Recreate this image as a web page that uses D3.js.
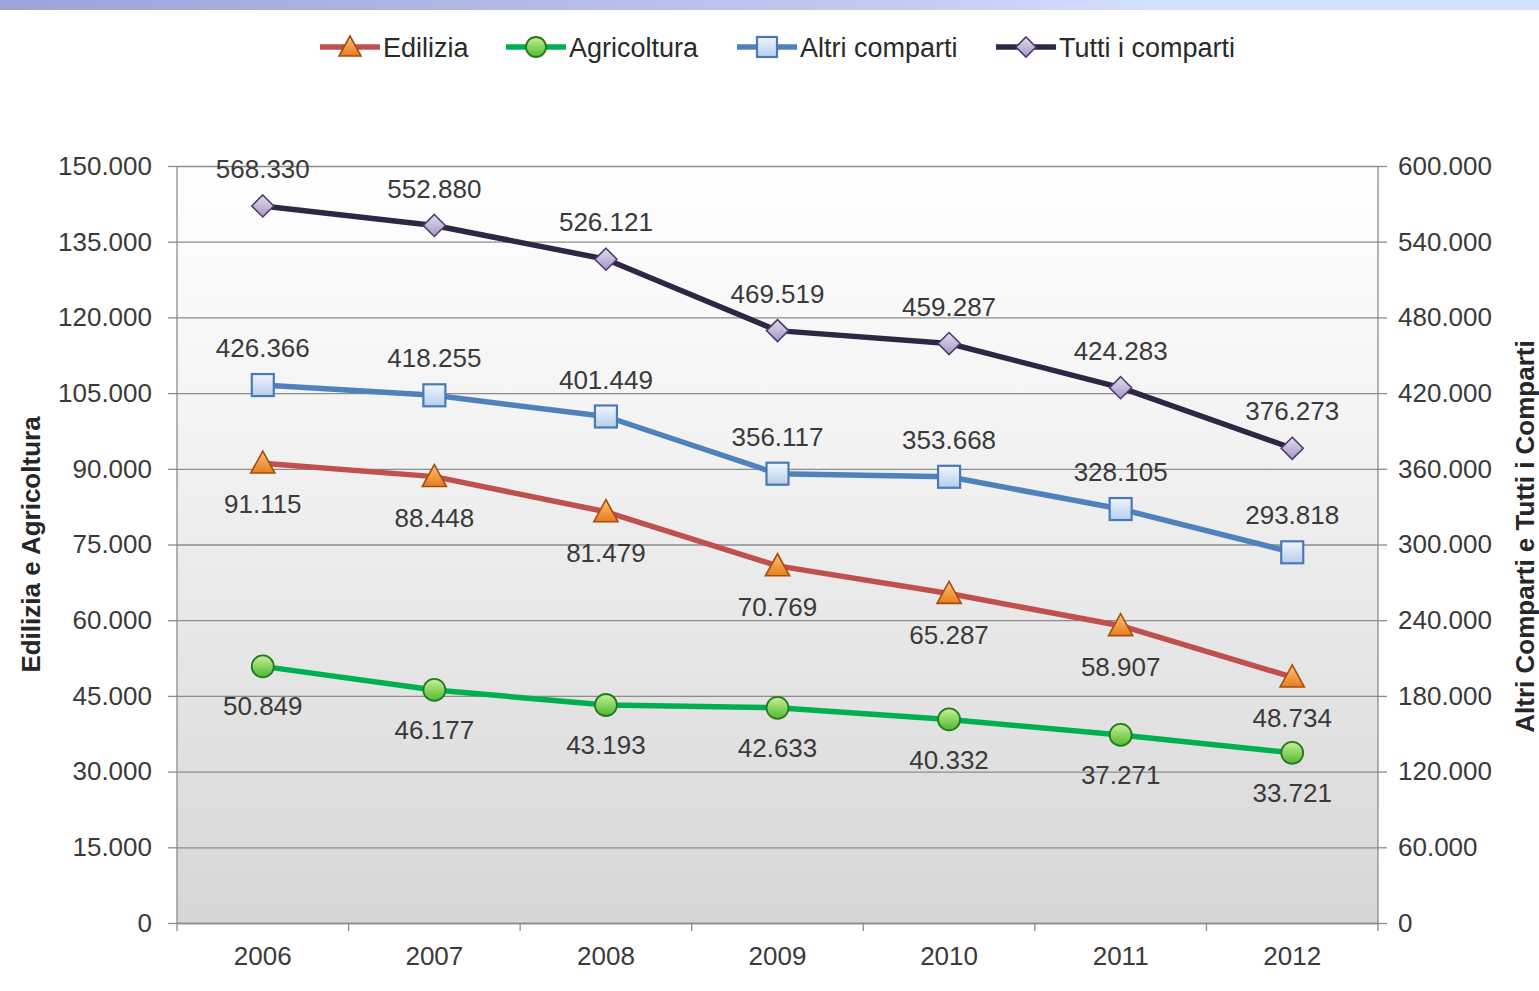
<!DOCTYPE html>
<html>
<head>
<meta charset="utf-8">
<script src="https://cdn.jsdelivr.net/npm/d3@7/dist/d3.min.js"></script>
<style>
  html, body { margin: 0; padding: 0; background: #ffffff; }
  svg { display: block; }
  text { font-family: "Liberation Sans", Arial, sans-serif; }
</style>
</head>
<body>
<svg id="chart" width="1539" height="991"></svg>
<script>
// ---- data ----
const years = ["2006", "2007", "2008", "2009", "2010", "2011", "2012"];
const edilizia = [91115, 88448, 81479, 70769, 65287, 58907, 48734];
const agricoltura = [50849, 46177, 43193, 42633, 40332, 37271, 33721];
const altriComparti = [426366, 418255, 401449, 356117, 353668, 328105, 293818];
const tuttiComparti = [568330, 552880, 526121, 469519, 459287, 424283, 376273];
const leftTicks = [0, 15000, 30000, 45000, 60000, 75000, 90000, 105000, 120000, 135000, 150000];
const rightTicks = [0, 60000, 120000, 180000, 240000, 300000, 360000, 420000, 480000, 540000, 600000];
const seriesNames = ["Edilizia", "Agricoltura", "Altri comparti", "Tutti i comparti"];
const leftTitle = "Edilizia e Agricoltura";
const rightTitle = "Altri Comparti e Tutti i Comparti";

// ---- setup ----
const svg = d3.select("#chart");
const W = 1539, H = 991;
const m = { left: 177, right: 1378, top: 166, bottom: 923 };
const it = d3.formatLocale({ decimal: ",", thousands: ".", grouping: [3], currency: ["€", ""] });
const fmt = it.format(",d");

const x = d3.scaleBand().domain(years).range([m.left, m.right]);
const cx = d => x(d) + x.bandwidth() / 2;
const yL = d3.scaleLinear().domain([0, 150000]).range([m.bottom, m.top]);
const yR = d3.scaleLinear().domain([0, 600000]).range([m.bottom, m.top]);

const defs = svg.append("defs");
function lin(id, stops, x1 = "0", y1 = "0", x2 = "0", y2 = "1") {
  const g = defs.append("linearGradient").attr("id", id)
    .attr("x1", x1).attr("y1", y1).attr("x2", x2).attr("y2", y2);
  stops.forEach(([o, c]) => g.append("stop").attr("offset", o).attr("stop-color", c));
}
lin("topband", [[0, "#9ea2d6"], [0.6, "#c3ccf4"], [0.75, "#d4e0ff"], [1, "#d4e0ff"]], "0", "0", "1", "0");
lin("plotbg", [[0, "#ffffff"], [0.35, "#f3f3f3"], [1, "#d6d6d6"]]);
lin("triFill", [[0, "#fbc27f"], [1, "#e87d1b"]]);
lin("cirFill", [[0, "#c9f09a"], [1, "#4fb82c"]]);
lin("sqFill", [[0, "#f2f7fd"], [1, "#b5cdec"]]);
lin("diaFill", [[0, "#e3dcef"], [1, "#a796c4"]]);

// top band
svg.append("rect").attr("x", 0).attr("y", 0).attr("width", W).attr("height", 10).attr("fill", "url(#topband)");

// plot background
svg.append("rect").attr("x", m.left).attr("y", m.top)
  .attr("width", m.right - m.left).attr("height", m.bottom - m.top)
  .attr("fill", "url(#plotbg)");

// gridlines
const grid = svg.append("g").attr("transform", `translate(${m.left},0)`)
  .call(d3.axisLeft(yL).tickValues(leftTicks).tickSize(-(m.right - m.left)).tickFormat(""));
grid.select(".domain").remove();
grid.selectAll("line").attr("stroke", "#8c8c8c").attr("stroke-width", 1.3);

// left axis
const axL = svg.append("g").attr("transform", `translate(${m.left},0)`)
  .call(d3.axisLeft(yL).tickValues(leftTicks).tickSize(9).tickPadding(16).tickFormat(fmt));
axL.select(".domain").remove();
axL.selectAll("line").attr("stroke", "#8c8c8c").attr("stroke-width", 1.3);
axL.selectAll("text").attr("font-size", 26).attr("fill", "#3a3a3a");
svg.append("line").attr("x1", m.left).attr("x2", m.left).attr("y1", m.top).attr("y2", m.bottom + 8)
  .attr("stroke", "#8c8c8c").attr("stroke-width", 1.3);

// right axis
const axR = svg.append("g").attr("transform", `translate(${m.right},0)`)
  .call(d3.axisRight(yR).tickValues(rightTicks).tickSize(9).tickPadding(11).tickFormat(fmt));
axR.select(".domain").remove();
axR.selectAll("line").attr("stroke", "#8c8c8c").attr("stroke-width", 1.3);
axR.selectAll("text").attr("font-size", 26).attr("fill", "#3a3a3a");
svg.append("line").attr("x1", m.right).attr("x2", m.right).attr("y1", m.top).attr("y2", m.bottom + 8)
  .attr("stroke", "#8c8c8c").attr("stroke-width", 1.3);

// bottom axis
const axB = svg.append("g").attr("transform", `translate(0,${m.bottom})`)
  .call(d3.axisBottom(x).tickSize(0).tickPadding(24));
axB.select(".domain").attr("stroke", "#8c8c8c").attr("stroke-width", 1.3);
axB.selectAll("text").attr("font-size", 26).attr("fill", "#3a3a3a");
// ticks at category boundaries
svg.append("g").selectAll("line").data(years.slice(1)).join("line")
  .attr("x1", d => x(d)).attr("x2", d => x(d))
  .attr("y1", m.bottom).attr("y2", m.bottom + 8)
  .attr("stroke", "#8c8c8c").attr("stroke-width", 1.3);

// axis titles
svg.append("text").attr("transform", `translate(40,${(m.top + m.bottom) / 2}) rotate(-90)`)
  .attr("text-anchor", "middle").attr("font-size", 26).attr("font-weight", "bold")
  .attr("fill", "#262626").text(leftTitle);
svg.append("text").attr("transform", `translate(1534,${(m.top + m.bottom) / 2 - 8}) rotate(-90)`)
  .attr("text-anchor", "middle").attr("font-size", 26).attr("font-weight", "bold")
  .attr("fill", "#262626").text(rightTitle);

// marker drawers
function marker(g, type, size) {
  const s = size;
  if (type === "tri") {
    g.append("path").attr("d", `M0,${-s * 0.55}L${s * 0.55},${s * 0.45}L${-s * 0.55},${s * 0.45}Z`)
      .attr("fill", "url(#triFill)").attr("stroke", "#a24f0c").attr("stroke-width", 1.6);
  } else if (type === "cir") {
    g.append("circle").attr("r", s / 2)
      .attr("fill", "url(#cirFill)").attr("stroke", "#217a1e").attr("stroke-width", 1.8);
  } else if (type === "sq") {
    g.append("rect").attr("x", -s / 2).attr("y", -s / 2).attr("width", s).attr("height", s)
      .attr("fill", "url(#sqFill)").attr("stroke", "#4a7ab5").attr("stroke-width", 2.2);
  } else if (type === "dia") {
    g.append("path").attr("d", `M0,${-s / 2}L${s / 2},0L0,${s / 2}L${-s / 2},0Z`)
      .attr("fill", "url(#diaFill)").attr("stroke", "#4c3d6e").attr("stroke-width", 1.6);
  }
}

const series = [
  { name: seriesNames[0], values: edilizia, y: yL, color: "#c0504d", mk: "tri", size: 22, labelDy: 41 },
  { name: seriesNames[1], values: agricoltura, y: yL, color: "#00b050", mk: "cir", size: 22, labelDy: 40 },
  { name: seriesNames[2], values: altriComparti, y: yR, color: "#4f81bd", mk: "sq", size: 22, labelDy: -37 },
  { name: seriesNames[3], values: tuttiComparti, y: yR, color: "#2e2645", mk: "dia", size: 22, labelDy: -37 }
];

const line = (ys) => d3.line().x((d, i) => cx(years[i])).y(d => ys(d));

series.forEach(s => {
  svg.append("path").datum(s.values)
    .attr("d", line(s.y))
    .attr("fill", "none").attr("stroke", s.color).attr("stroke-width", 5.5)
    .attr("stroke-linejoin", "round").attr("stroke-linecap", "round");
});
series.forEach(s => {
  s.values.forEach((v, i) => {
    const g = svg.append("g").attr("transform", `translate(${cx(years[i])},${s.y(v)})`);
    marker(g, s.mk, s.size);
  });
});
// data labels
series.forEach(s => {
  s.values.forEach((v, i) => {
    svg.append("text")
      .attr("x", cx(years[i])).attr("y", s.y(v) + s.labelDy)
      .attr("dy", "0.35em").attr("text-anchor", "middle")
      .attr("font-size", 26).attr("fill", "#3a3a3a")
      .text(fmt(v));
  });
});

// legend
const legendPos = [350, 536, 767, 1026];
series.forEach((s, i) => {
  const lx = legendPos[i], ly = 47;
  svg.append("line").attr("x1", lx - 30).attr("x2", lx + 30).attr("y1", ly).attr("y2", ly)
    .attr("stroke", s.color).attr("stroke-width", 5.5);
  const g = svg.append("g").attr("transform", `translate(${lx},${ly})`);
  marker(g, s.mk, 20);
  svg.append("text").attr("x", lx + 33).attr("y", ly).attr("dy", "0.36em")
    .attr("font-size", 27).attr("fill", "#2a2a2a").text(s.name);
});
</script>
</body>
</html>
